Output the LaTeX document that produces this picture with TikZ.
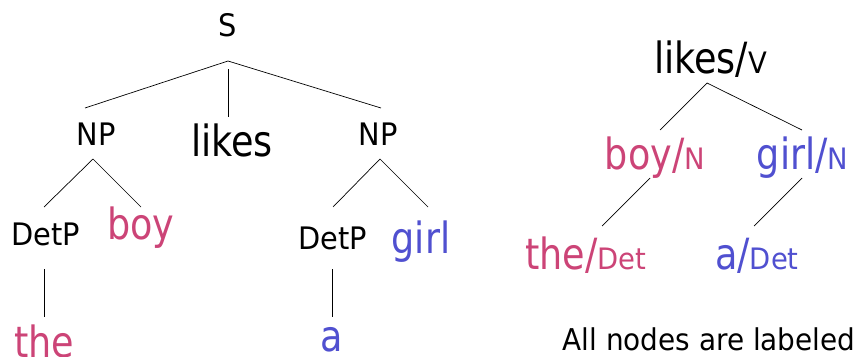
\documentclass[tikz,border=0pt]{standalone}
\usepackage{fontspec}
\setmainfont{DejaVu Sans}[FakeStretch=0.85]
\newfontfamily\capsfont{DejaVu Sans}[FakeStretch=0.93]
\definecolor{rosa}{RGB}{204,68,119}
\definecolor{lila}{RGB}{80,80,208}
\newcommand{\tagsz}{\capsfont\fontsize{29.5}{29.5}\selectfont}
\begin{document}
\begin{tikzpicture}[x=1pt,y=-1pt,
  lbl/.style={inner sep=0pt,anchor=base,font=\capsfont\fontsize{31}{31}\selectfont},
  big/.style={inner sep=0pt,anchor=base,font=\fontsize{43}{43}\selectfont},
  edge/.style={draw=black,line width=0.7pt}]
\useasboundingbox (0,0) rectangle (859,356);
% left tree
\node[lbl] (S) at (228,36.7) {S};
\node[lbl] (NP1) at (96,145) {NP};
\node[big] (likes) at (232,156) {likes};
\node[lbl] (NP2) at (378,145) {NP};
\node[lbl] (DetP1) at (45.5,245) {DetP};
\node[big,text=rosa] (boy) at (141,239) {boy};
\node[lbl] (DetP2) at (333,249) {DetP};
\node[big,text=lila] (girl) at (421,253) {girl};
\node[big,text=rosa] (the) at (44,357) {the};
\node[big,text=lila] (a) at (332,351) {a};
\coordinate (S1) at (228,61);
\coordinate (S2) at (228,69);
\coordinate (NP1t) at (85,108);
\coordinate (NP2t) at (381,108);
\coordinate (likest) at (228,117);
\coordinate (NP1b) at (93,159);
\coordinate (NP2b) at (380,159);
\coordinate (DetP1t) at (44,207);
\coordinate (boyt) at (141,207);
\coordinate (DetP2t) at (333,207);
\coordinate (girlt) at (428,207);
\coordinate (DetP1b) at (44,269);
\coordinate (thet) at (44,317);
\coordinate (DetP2b) at (332,269);
\coordinate (at) at (332,317);
\draw[edge] (NP1t) -- (S1) -- (NP2t);
\draw[edge] (S2) -- (likest);
\draw[edge] (DetP1t) -- (NP1b) -- (boyt);
\draw[edge] (DetP2t) -- (NP2b) -- (girlt);
\draw[edge] (DetP1b) -- (thet);
\draw[edge] (DetP2b) -- (at);
% right tree
\node[big] (lv) at (710.5,73) {likes/{\tagsz V}};
\node[big,text=rosa] (bn) at (655,169) {boy/{\tagsz N}};
\node[big,text=lila] (gn) at (802.5,169) {girl/{\tagsz N}};
\node[big,text=rosa] (td) at (586,269) {the/{\tagsz Det}};
\node[big,text=lila] (ad) at (757,269) {a/{\tagsz Det}};
\node[inner sep=0pt,anchor=base,font=\capsfont\fontsize{30}{30}\selectfont] (note) at (709,350) {All nodes are labeled};
\coordinate (lvb) at (707,83);
\coordinate (bnt) at (660,130);
\coordinate (gnt) at (802,130);
\coordinate (bnb) at (650,178);
\coordinate (tdt) at (602,226);
\coordinate (gnb) at (802,178);
\coordinate (adt) at (754,226);
\draw[edge] (bnt) -- (lvb) -- (gnt);
\draw[edge] (bnb) -- (tdt);
\draw[edge] (gnb) -- (adt);
\end{tikzpicture}
\end{document}
